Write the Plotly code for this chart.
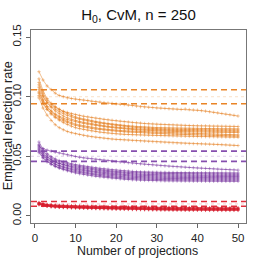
import plotly.graph_objects as go

# Number of projections
projections = list(range(1, 51))

# Rejections per 10,000 Monte Carlo replicates, nominal level 0.10 (orange)
O1 = [1210,1140,1090,1060,1030,1010,1000,990,985,980,975,972,968,962,958,955,950,946,944,940,
      937,934,930,926,921,916,913,911,909,906,904,902,899,897,895,893,897,892,889,887,
      883,879,874,869,864,859,854,849,844,838]
O2 = [1120,1030,970,935,910,892,878,868,858,850,843,836,830,825,820,815,810,806,802,798,
      794,790,787,783,780,778,775,773,771,769,767,766,764,763,761,760,759,758,757,756,
      755,755,754,753,753,752,752,751,751,750]
O3 = [1150,1050,985,945,918,895,875,858,843,830,820,812,805,798,792,786,780,775,770,765,
      762,759,756,753,750,748,746,744,742,741,740,739,738,737,736,736,735,735,734,734,
      733,733,733,732,732,731,731,731,730,730]
O4 = [1080,1000,950,918,895,875,858,843,830,820,812,804,797,790,784,779,774,769,764,760,
      756,752,748,745,742,739,737,735,733,731,730,729,728,727,726,725,725,724,724,723,
      723,722,722,722,721,721,721,720,720,720]
O5 = [1100,1010,950,910,880,857,838,822,810,800,792,785,778,772,766,761,756,751,747,743,
      740,737,735,732,730,728,726,725,723,722,721,720,719,718,717,716,716,715,715,714,
      714,713,713,712,712,711,711,711,710,710]
O6 = [1040,965,915,880,855,835,820,808,798,790,783,776,770,764,759,754,749,745,741,737,
      734,731,728,725,722,720,718,716,715,713,712,711,710,709,708,707,706,706,705,704,
      704,703,703,702,702,701,701,700,700,700]
O7 = [1060,975,918,878,848,826,808,794,781,770,762,755,749,743,738,733,729,725,721,718,
      716,714,712,711,710,708,706,704,702,700,699,698,697,696,695,694,693,692,691,690,
      689,688,687,686,685,684,683,682,681,680]
O8 = [1010,940,893,858,832,812,797,784,771,760,752,745,739,734,729,725,721,717,713,710,
      708,706,704,702,700,698,696,694,692,690,689,688,687,686,685,684,683,682,681,680,
      679,678,677,676,675,674,673,672,671,670]
O9 = [1030,950,895,855,825,802,783,767,752,740,732,725,719,713,708,703,699,695,691,688,
      686,684,683,681,680,679,678,677,676,675,674,673,672,671,670,669,668,667,667,666,
      665,665,664,664,663,663,662,661,661,660]
O10 = [990,905,845,800,765,740,722,708,698,690,683,676,670,665,660,656,652,648,645,642,
       640,638,636,633,631,629,627,625,623,621,619,617,615,613,611,609,608,607,606,605,
       604,603,602,601,600,598,596,594,592,590]

# Nominal level 0.05 (purple)
P1 = [580,565,552,543,535,528,520,512,505,498,492,487,483,479,475,471,467,463,459,455,
      452,449,446,443,440,437,434,431,428,425,422,419,416,414,412,410,408,406,404,402,
      400,398,396,394,392,390,389,387,386,384]
P2 = [620,560,522,497,478,464,453,445,437,430,424,418,413,408,403,399,395,391,387,384,
      381,378,376,373,371,369,368,367,366,366,365,365,364,364,364,363,363,363,362,362,
      362,362,361,361,361,361,360,360,360,360]
P3 = [600,545,510,486,468,454,443,434,427,420,414,408,402,397,392,388,384,380,376,373,
      370,367,365,363,361,360,359,358,357,357,356,356,355,355,354,354,353,353,353,352,
      352,352,351,351,351,351,350,350,350,350]
P4 = [570,522,490,468,452,440,430,422,416,410,404,398,393,388,383,379,375,371,367,364,
      361,358,355,353,351,349,348,347,346,346,345,345,344,344,343,343,343,342,342,342,
      341,341,341,341,340,340,340,340,340,340]
P5 = [590,532,496,471,453,439,427,417,408,400,393,387,382,377,372,368,364,360,356,353,
      350,347,345,343,341,339,338,337,336,335,335,334,334,333,333,332,332,332,331,331,
      331,331,330,330,330,330,330,330,330,330]
P6 = [550,505,474,452,436,423,412,403,396,390,384,378,373,368,363,359,355,351,347,344,
      341,338,335,333,331,329,328,327,326,325,325,324,324,323,323,322,322,322,321,321,
      321,321,320,320,320,320,320,320,320,320]
P7 = [560,508,474,450,432,418,406,396,388,380,373,367,362,357,352,348,344,340,336,333,
      330,327,325,323,321,319,318,317,316,315,315,314,314,313,313,312,312,312,311,311,
      311,311,310,310,310,310,310,310,310,310]
P8 = [530,485,455,434,418,405,394,385,377,370,364,358,352,347,342,338,334,330,326,323,
      320,317,315,313,311,309,308,307,306,305,305,304,304,303,303,302,302,302,301,301,
      301,301,300,300,300,300,300,300,300,300]
P9 = [540,490,456,432,414,400,388,378,369,360,353,347,342,337,332,328,324,320,316,313,
      310,307,305,303,301,299,298,297,296,295,295,294,294,293,293,292,292,292,291,291,
      291,291,290,290,290,290,290,290,290,290]

# Nominal level 0.01 (red)
R1 = [112,102,96,93,91,89,88,87,86,85,84,83,82,81,80,80,79,78,78,77,77,76,76,75,74,74,73,73,72,72,
      72,71,71,71,70,70,70,69,69,69,69,69,68,68,68,68,68,68,68,68]
R2 = [106,97,92,89,86,84,83,82,81,80,79,78,77,76,75,75,74,73,73,72,72,71,71,70,70,69,69,68,68,68,
      67,67,67,66,66,66,66,65,65,65,65,65,64,64,64,64,64,64,64,64]
R3 = [109,98,92,88,85,83,81,80,79,78,77,76,75,74,73,72,72,71,70,70,69,69,68,68,67,67,66,66,65,65,
      65,64,64,64,63,63,63,63,62,62,62,62,62,61,61,61,61,61,61,61]
R4 = [100,92,87,84,81,79,78,77,76,75,74,73,72,71,70,70,69,68,68,67,67,66,66,65,64,64,63,63,62,62,
      62,61,61,61,60,60,60,60,59,59,59,59,59,58,58,58,58,58,58,58]
R5 = [96,89,84,81,78,76,75,74,73,72,71,70,69,68,67,66,66,65,64,64,63,63,62,61,60,60,59,59,58,58,
      58,57,57,57,56,56,56,56,56,55,55,55,55,55,55,55,55,55,55,55]
R6 = [103,92,85,80,77,75,73,72,71,70,69,68,67,66,65,64,63,62,62,61,61,60,60,59,58,58,57,57,56,56,
      55,55,55,54,54,54,53,53,53,53,52,52,52,52,52,52,52,52,52,52]
R7 = [93,86,81,77,75,73,71,70,69,68,67,66,65,64,63,62,61,60,59,58,58,57,57,56,55,55,54,54,53,53,
      52,52,52,51,51,51,50,50,50,50,50,49,49,49,49,49,49,49,49,49]
R8 = [99,89,82,77,74,71,70,68,67,66,65,64,63,62,61,60,59,58,57,56,55,55,54,53,52,52,51,51,50,50,
      49,49,49,48,48,48,47,47,47,47,47,46,46,46,46,46,46,46,46,46]

REPLICATES = 10000

# Nominal levels and 95% Monte Carlo bands
levels = [0.10, 0.05, 0.01]
band_lower = [0.0941, 0.0457, 0.0080]
band_upper = [0.1059, 0.0543, 0.0120]

groups = [
    ([O1, O2, O3, O4, O5, O6, O7, O8, O9, O10], "rgba(228,125,28,0.7)", "rgba(232,125,25,0.95)", "rgba(230,128,30,0.3)"),
    ([P1, P2, P3, P4, P5, P6, P7, P8, P9], "rgba(118,50,158,0.7)", "rgba(128,70,170,0.95)", "rgba(120,55,160,0.3)"),
    ([R1, R2, R3, R4, R5, R6, R7, R8], "rgba(215,30,45,0.7)", "rgba(222,35,50,0.95)", "rgba(215,30,45,0.3)"),
]

fig = go.Figure()
shapes = []
for gi, (series, col, dcol, fcol) in enumerate(groups):
    for s in series:
        fig.add_trace(go.Scatter(
            x=projections, y=[v / REPLICATES for v in s], mode="lines+markers",
            line=dict(color=col, width=0.7),
            marker=dict(symbol="cross-thin", size=2.5, line=dict(color=col, width=0.6)),
            showlegend=False, hoverinfo="skip"))
    for yv in (band_lower[gi], band_upper[gi]):
        shapes.append(dict(type="line", xref="paper", x0=0, x1=1, yref="y", y0=yv, y1=yv,
                           line=dict(color=dcol, width=1.6, dash="6px,4px"), layer="above"))
    shapes.append(dict(type="line", xref="paper", x0=0, x1=1, yref="y", y0=levels[gi], y1=levels[gi],
                       line=dict(color=fcol, width=0.8, dash="dot"), layer="below"))

font = "Liberation Sans, Arial, sans-serif"
fig.update_layout(
    width=262, height=262,
    margin=dict(l=31, r=16, t=30, b=39, autoexpand=False),
    paper_bgcolor="white", plot_bgcolor="white",
    font=dict(family=font, size=11.5, color="#222"),
    shapes=shapes,
    hovermode=False,
    title=dict(text="H<sub>0</sub>, CvM, n = 250", x=0.5285, xanchor="center",
               y=1 - 15 / 262, yanchor="middle", yref="container",
               font=dict(family=font, size=15, color="#111")),
    xaxis=dict(range=[-0.96, 51.96], tickvals=[0, 10, 20, 30, 40, 50], ticks="outside",
               ticklen=4, tickcolor="#666", showline=True, linecolor="#777", linewidth=1,
               mirror=True, showgrid=False, zeroline=False, automargin=False),
    yaxis=dict(range=[-0.006, 0.156], tickvals=[0, 0.05, 0.10, 0.15], tickformat=".2f",
               tickangle=-90, ticks="outside", ticklen=4, tickcolor="#666", showline=True,
               linecolor="#777", linewidth=1, mirror=True, showgrid=False, zeroline=False,
               automargin=False),
    annotations=[
        dict(text="Number of projections", xref="paper", yref="paper", x=0.497, y=-0.147,
             xanchor="center", yanchor="middle", showarrow=False, borderpad=0,
             font=dict(size=12.4)),
        dict(text="Empirical rejection rate", xref="paper", yref="paper", x=-0.107, y=0.507,
             xanchor="center", yanchor="middle", textangle=-90, showarrow=False,
             borderpad=0, font=dict(size=12.7)),
    ],
)

fig.write_html("out.html", config={"displayModeBar": False},
               post_script="document.body.style.margin='0px';")
